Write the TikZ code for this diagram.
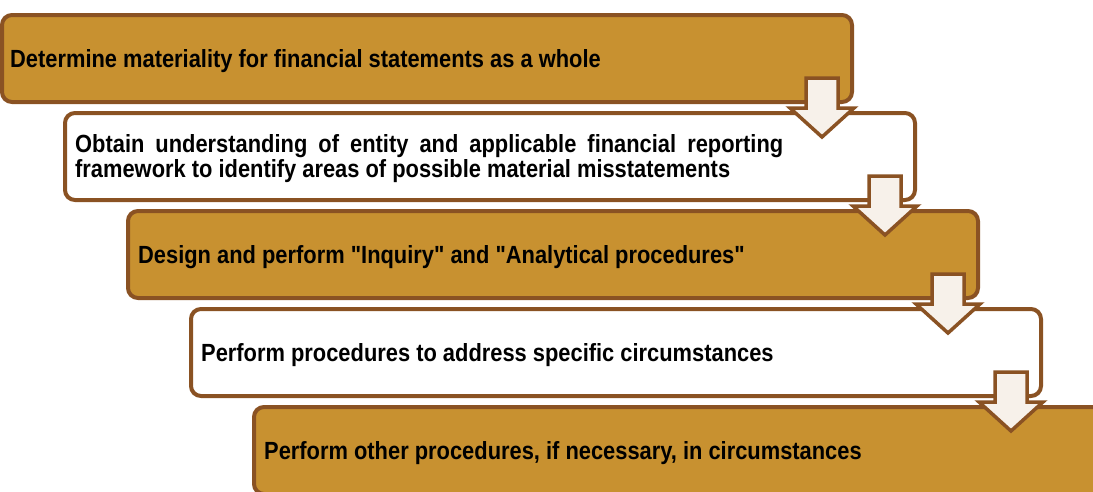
\documentclass[tikz,border=0pt]{standalone}
\usepackage{fontspec}
\newfontfamily\stepfont{Liberation Sans}[FakeStretch=0.88]
\usepackage{tikz}
\usetikzlibrary{positioning, calc}
\definecolor{gold}{RGB}{200,145,48}
\definecolor{rim}{RGB}{138,82,35}
\definecolor{cream}{RGB}{247,241,234}

\begin{document}
\begin{tikzpicture}[x=1pt, y=-1pt,
  stepbox/.style = {draw=rim, line width=4pt, rounded corners=10pt, anchor=north west, minimum width=850pt, minimum height=87pt, outer sep=0pt, inner sep=0pt},
  lbl/.style = {inner sep=0pt, yshift=-2.5pt, font=\stepfont\bfseries\fontsize{24.85}{25}\selectfont},
  downarrow/.style = {draw=rim, line width=3.5pt, fill=cream, line join=miter}]
  \useasboundingbox (0,0) rectangle (1093,491);
  \clip (0,0) rectangle (1093,491);
  \node[stepbox, fill=gold] (b1) at (2,15) {};
  \node[stepbox, fill=white] (b2) at (65,113) {};
  \node[stepbox, fill=gold] (b3) at (128,211) {};
  \node[stepbox, fill=white] (b4) at (191,309) {};
  \node[stepbox, fill=gold] (b5) at (254,407) {};
  \node[lbl, right=8pt of b1.west] (t1) {Determine materiality for financial statements as a whole};
  \node[lbl, right=10pt of b2.west, text width=708pt, align=justify] (t2) {\tolerance=9999 Obtain understanding of entity and applicable financial reporting\linebreak framework to identify areas of possible material misstatements};
  \node[lbl, right=10pt of b3.west] (t3) {Design and perform "Inquiry" and "Analytical procedures"};
  \node[lbl, right=10pt of b4.west] (t4) {Perform procedures to address specific circumstances};
  \node[lbl, right=10pt of b5.west] (t5) {Perform other procedures, if necessary, in circumstances};
  % arrows between the steps
  \foreach \a in {b1,b2,b3,b4}
    \draw[downarrow] ($(\a.south east)+(-46,-24)$) -- ($(\a.south east)+(-14,-24)$) -- ($(\a.south east)+(-14,6)$) -- ($(\a.south east)+(2,6)$) -- ($(\a.south east)+(-30,35)$) -- ($(\a.south east)+(-62,6)$) -- ($(\a.south east)+(-46,6)$) -- cycle;
\end{tikzpicture}
\end{document}
